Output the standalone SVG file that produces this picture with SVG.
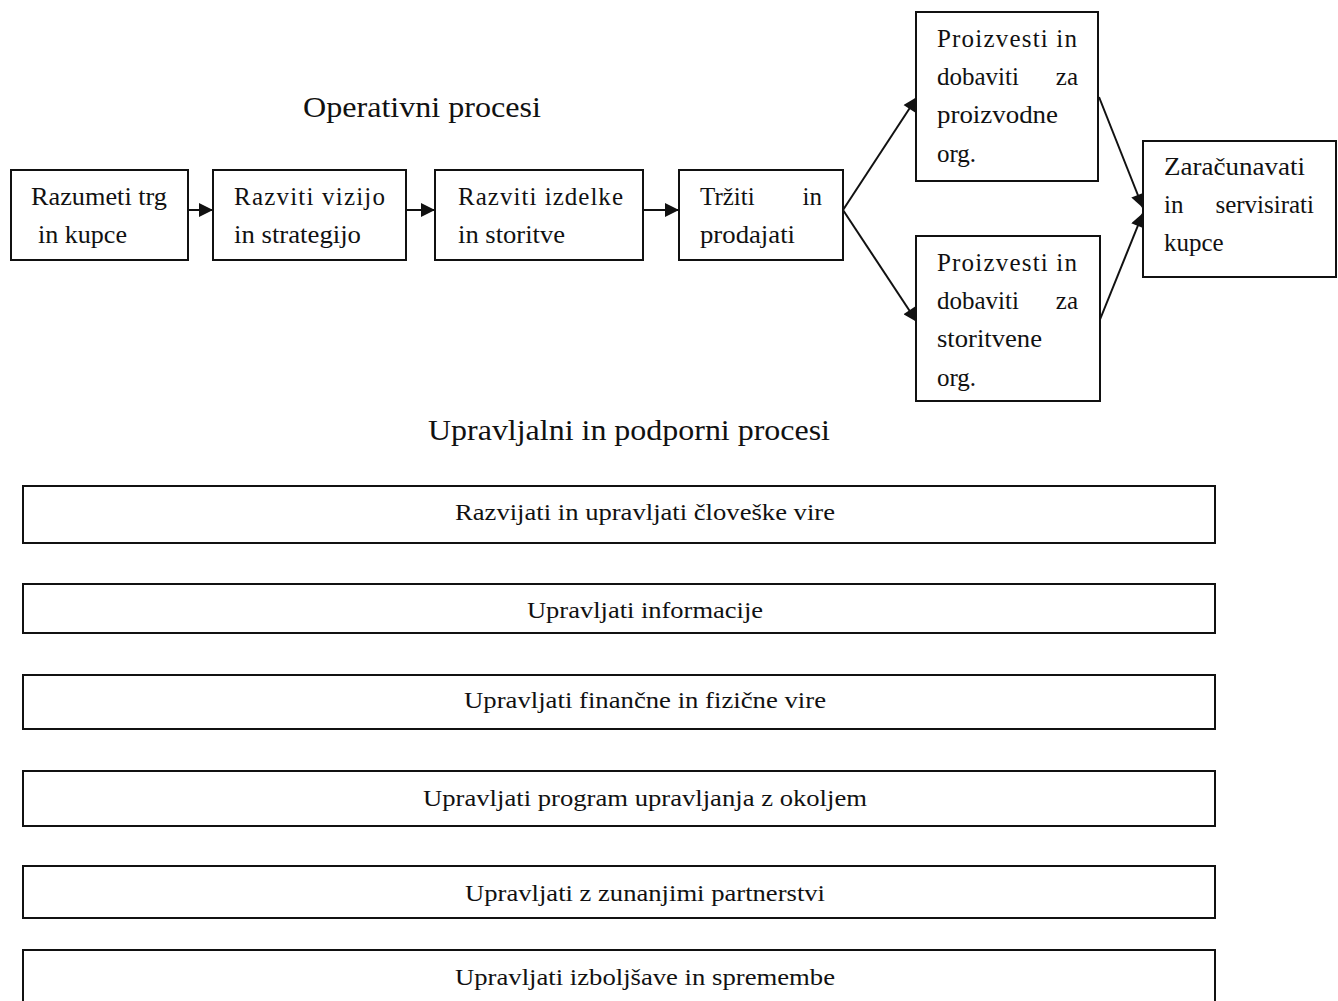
<svg xmlns="http://www.w3.org/2000/svg" width="1338" height="1001" viewBox="0 0 1338 1001">
<style>
.box{fill:#fff;stroke:#111;stroke-width:2}
.t{font-family:"Liberation Serif","Times New Roman",serif;font-size:25px;fill:#111}
.ti{font-family:"Liberation Serif","Times New Roman",serif;font-size:30px;fill:#111}
.b{font-family:"Liberation Serif","Times New Roman",serif;font-size:23px;fill:#111}
.c{stroke:#111;stroke-width:2;fill:none}
</style>
<defs>
<marker id="ah" viewBox="0 0 10 10" refX="10" refY="5" markerWidth="16" markerHeight="14" markerUnits="userSpaceOnUse" orient="auto">
<path d="M0,0 L10,5 L0,10 z" fill="#111"/>
</marker>
</defs>
<rect width="1338" height="1001" fill="#fff"/>
<text class="ti" x="303" y="117" textLength="238" lengthAdjust="spacingAndGlyphs">Operativni procesi</text>
<text class="ti" x="428" y="440" textLength="402" lengthAdjust="spacingAndGlyphs">Upravljalni in podporni procesi</text>

<g id="connectors">
<line class="c" x1="188" y1="210" x2="213" y2="210" marker-end="url(#ah)"/>
<line class="c" x1="406" y1="210" x2="435" y2="210" marker-end="url(#ah)"/>
<line class="c" x1="643" y1="210" x2="679" y2="210" marker-end="url(#ah)"/>
<line class="c" x1="843" y1="210" x2="917" y2="97" marker-end="url(#ah)"/>
<line class="c" x1="843" y1="210" x2="917" y2="322" marker-end="url(#ah)"/>
<line class="c" x1="1099" y1="97" x2="1143" y2="208" marker-end="url(#ah)"/>
<line class="c" x1="1099" y1="322" x2="1143" y2="213" marker-end="url(#ah)"/>
</g>

<g id="n1"><rect class="box" x="11" y="170" width="177" height="90"/>
<text class="t" x="31" y="205" textLength="136" lengthAdjust="spacingAndGlyphs">Razumeti trg</text>
<text class="t" x="38" y="243" textLength="89" lengthAdjust="spacingAndGlyphs">in kupce</text></g>
<g id="n2"><rect class="box" x="213" y="170" width="193" height="90"/>
<text class="t" x="234" y="205" textLength="151" lengthAdjust="spacing">Razviti  vizijo</text>
<text class="t" x="234" y="243" textLength="127" lengthAdjust="spacingAndGlyphs">in strategijo</text></g>
<g id="n3"><rect class="box" x="435" y="170" width="208" height="90"/>
<text class="t" x="458" y="205" textLength="165" lengthAdjust="spacing">Razviti  izdelke</text>
<text class="t" x="458" y="243" textLength="107" lengthAdjust="spacingAndGlyphs">in storitve</text></g>
<g id="n4"><rect class="box" x="679" y="170" width="164" height="90"/>
<text class="t" x="700" y="205">Tržiti</text><text class="t" x="822" y="205" text-anchor="end">in</text>
<text class="t" x="700" y="243" textLength="95" lengthAdjust="spacingAndGlyphs">prodajati</text></g>
<g id="n5"><rect class="box" x="916" y="12" width="182" height="169"/>
<text class="t" x="937" y="47" textLength="140" lengthAdjust="spacing">Proizvesti in</text>
<text class="t" x="937" y="85">dobaviti</text><text class="t" x="1078" y="85" text-anchor="end">za</text>
<text class="t" x="937" y="123" textLength="121" lengthAdjust="spacingAndGlyphs">proizvodne</text>
<text class="t" x="937" y="162">org.</text></g>
<g id="n6"><rect class="box" x="916" y="236" width="184" height="165"/>
<text class="t" x="937" y="271" textLength="140" lengthAdjust="spacing">Proizvesti in</text>
<text class="t" x="937" y="309">dobaviti</text><text class="t" x="1078" y="309" text-anchor="end">za</text>
<text class="t" x="937" y="347" textLength="105" lengthAdjust="spacingAndGlyphs">storitvene</text>
<text class="t" x="937" y="386">org.</text></g>
<g id="n7"><rect class="box" x="1143" y="141" width="193" height="136"/>
<text class="t" x="1164" y="175" textLength="141" lengthAdjust="spacingAndGlyphs">Zaračunavati</text>
<text class="t" x="1164" y="213">in</text><text class="t" x="1314" y="213" text-anchor="end">servisirati</text>
<text class="t" x="1164" y="251">kupce</text></g>

<g id="s1"><rect class="box" x="23" y="486" width="1192" height="57"/>
<text class="b" x="645" y="520" text-anchor="middle" textLength="380" lengthAdjust="spacingAndGlyphs">Razvijati in upravljati človeške vire</text></g>
<g id="s2"><rect class="box" x="23" y="584" width="1192" height="49"/>
<text class="b" x="645" y="618" text-anchor="middle" textLength="236" lengthAdjust="spacingAndGlyphs">Upravljati informacije</text></g>
<g id="s3"><rect class="box" x="23" y="675" width="1192" height="54"/>
<text class="b" x="645" y="708" text-anchor="middle" textLength="362" lengthAdjust="spacingAndGlyphs">Upravljati finančne in fizične vire</text></g>
<g id="s4"><rect class="box" x="23" y="771" width="1192" height="55"/>
<text class="b" x="645" y="806" text-anchor="middle" textLength="444" lengthAdjust="spacingAndGlyphs">Upravljati program upravljanja z okoljem</text></g>
<g id="s5"><rect class="box" x="23" y="866" width="1192" height="52"/>
<text class="b" x="645" y="901" text-anchor="middle" textLength="360" lengthAdjust="spacingAndGlyphs">Upravljati z zunanjimi partnerstvi</text></g>
<g id="s6"><rect class="box" x="23" y="950" width="1192" height="60"/>
<text class="b" x="645" y="985" text-anchor="middle" textLength="380" lengthAdjust="spacingAndGlyphs">Upravljati izboljšave in spremembe</text></g>
</svg>
